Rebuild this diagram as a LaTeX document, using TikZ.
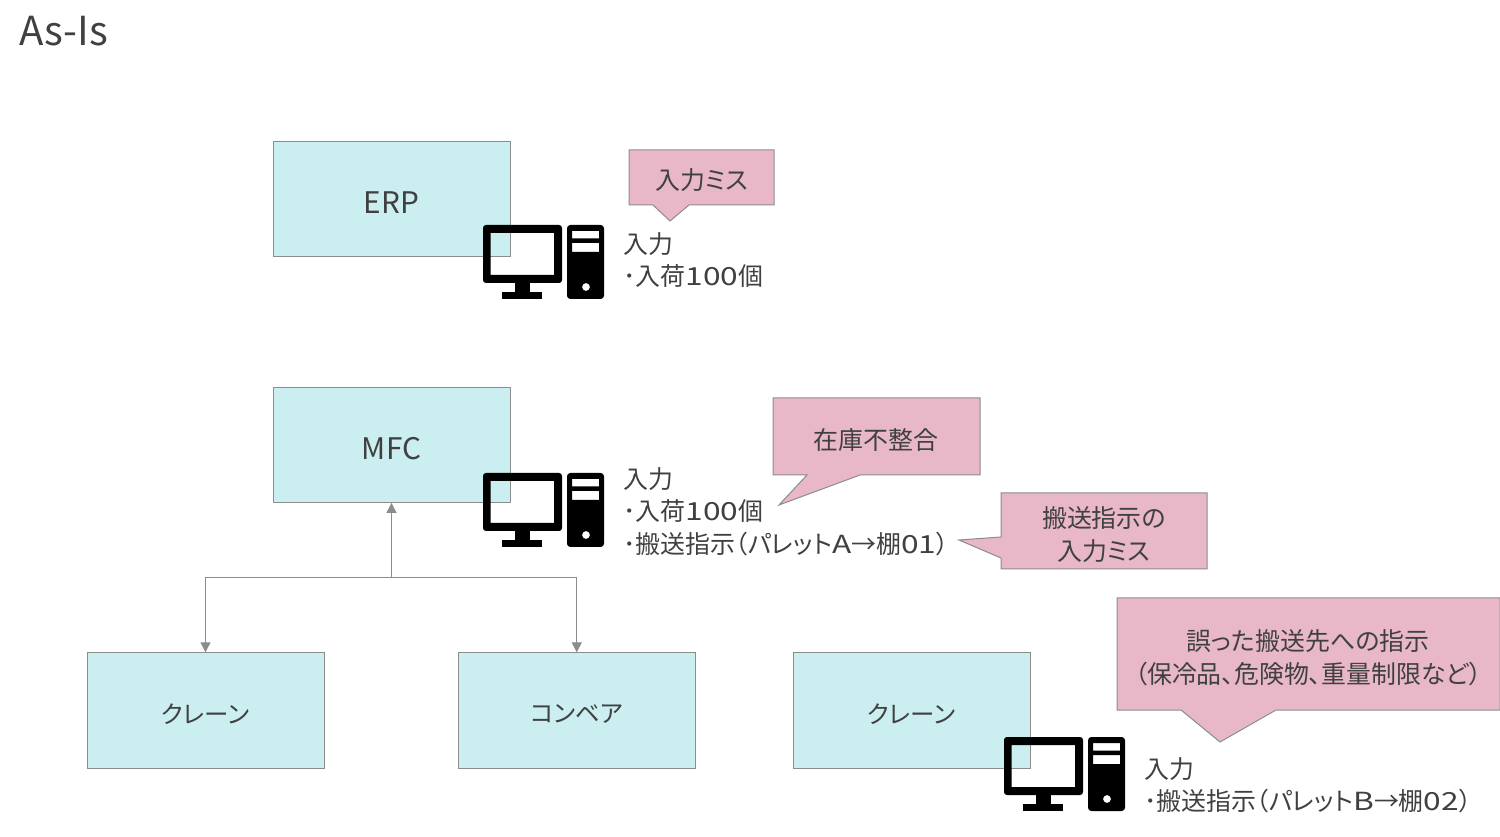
\documentclass[tikz,border=0pt]{standalone}
\usepackage{fontspec}
\setmainfont{Noto Sans CJK JP}[RawFeature=+palt]
\newfontfamily\widefont{Noto Sans CJK JP}[FakeStretch=1.27]
\newcommand{\ltn}[1]{{\widefont #1}}
\definecolor{txt}{HTML}{404040}
\definecolor{boxfill}{HTML}{CBEEF0}
\definecolor{pinkfill}{HTML}{E8B7C8}
\definecolor{edge}{HTML}{8C8C8C}
\usetikzlibrary{arrows.meta}
\tikzset{
  sysbox/.style={draw=edge,fill=boxfill,line width=0.75pt,text=txt,minimum width=177.75pt,minimum height=86.5pt,inner sep=0pt},
  boxlatin/.style={font=\fontsize{22.3}{26}\selectfont},
  boxkana/.style={font=\fontsize{18.3}{24}\selectfont},
  callout/.style={draw=edge,fill=pinkfill,line width=0.75pt,line join=miter},
  ctext/.style={text=txt,align=center,inner sep=0pt,font=\fontsize{18.7}{24.4}\selectfont},
  note/.style={text=txt,align=left,anchor=north west,inner sep=0pt,font=\fontsize{18.7}{24.4}\selectfont},
  arr/.style={draw=edge,line width=0.75pt,-{Triangle[length=7.5pt,width=7.5pt]}}
}
\newcommand{\pcicon}[2]{%
  \begin{scope}[shift={(#1,#2)}]
    \fill[black,even odd rule] [rounded corners=2.2pt] (0,0) rectangle (79,58) [sharp corners] (7.5,8) rectangle (71,50);
    \fill[black] (32,58) rectangle (47,67);
    \fill[black] (19,67) rectangle (59,74);
    \fill[black,even odd rule] [rounded corners=2.5pt] (84,0) rectangle (121,74) [sharp corners] (89,6) rectangle (116,13.5) (89,18) rectangle (116,27) (103,62) circle (4);
  \end{scope}}
\begin{document}
\begin{tikzpicture}[x=0.75pt,y=-0.75pt]
\useasboundingbox (0,0) rectangle (1500,837);
\node[text=txt,anchor=west,inner sep=0pt,font=\fontsize{30}{36}\selectfont] (title) at (19,31) {As-Is};

\node[sysbox] (erp) at (391.5,199) {};
\node[sysbox] (mfc) at (391.5,444.75) {};
\node[sysbox] (crane) at (205.5,710.5) {};
\node[sysbox] (conv) at (576.75,710.5) {};
\node[sysbox] (crane2) at (911.5,710.5) {};
\node[boxlatin,text=txt,inner sep=0pt] (erpt) at (391.5,203) {ERP};
\node[boxlatin,text=txt,inner sep=0pt] (mfct) at (391.5,449) {MFC};
\node[boxkana,text=txt,inner sep=0pt] (cranet) at (205.5,714) {クレーン};
\node[boxkana,text=txt,inner sep=0pt] (convt) at (576.5,714) {コンベア};
\node[boxkana,text=txt,inner sep=0pt] (crane2t) at (911.5,714) {クレーン};

\coordinate (junc) at (mfc.south |- 0,578);
\draw[arr] (junc) -- (mfc.south);
\draw[arr] (junc) -| (crane.north);
\draw[arr] (junc) -| (conv.north);

\pcicon{483}{225}
\pcicon{483}{473}
\pcicon{1004}{737}

\draw[callout] (629,150) -- (774,150) -- (774,205) -- (689,205) -- (670,221) -- (653,205) -- (629,205) -- cycle;
\draw[callout] (773,398) -- (980,398) -- (980,475) -- (860,475) -- (779,505) -- (807,475) -- (773,475) -- cycle;
\draw[callout] (1001,493) -- (1207,493) -- (1207,569) -- (1001,569) -- (1001,558) -- (959,540) -- (1001,537) -- cycle;
\draw[callout] (1117,598) -- (1500,598) -- (1500,710) -- (1276,710) -- (1220,742) -- (1181,710) -- (1117,710) -- cycle;

\node[ctext] (c1) at (701.5,180) {入力ミス};
\node[ctext] (c2) at (876,440) {在庫不整合};
\node[ctext] (c3) at (1104,534.5) {搬送指示の\\入力ミス};
\node[ctext] (c4) at (1308,657.5) {誤った搬送先への指示\\（保冷品、危険物、重量制限など）};

\node[note] (n1) at (623,232) {入力\\･入荷\ltn{100}個};
\node[note] (n2) at (623,467) {入力\\･入荷\ltn{100}個\\･搬送指示（パレット\ltn{A}→棚\ltn{01}）};
\node[note] (n3) at (1144,757) {入力\\･搬送指示（パレット\ltn{B}→棚\ltn{02}）};
\end{tikzpicture}
\end{document}
